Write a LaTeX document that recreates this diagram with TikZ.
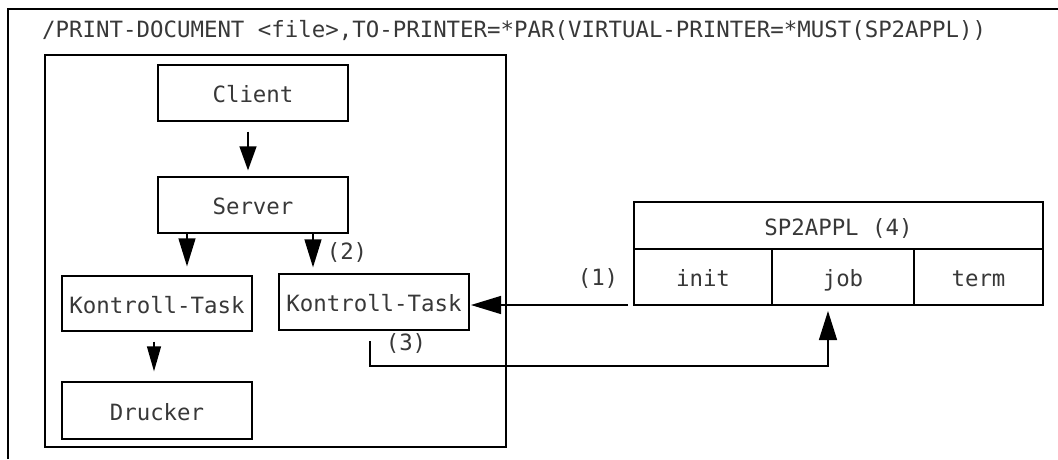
\documentclass[tikz,border=0pt]{standalone}
\usepackage{fontspec}
\newfontfamily\monofont{DejaVu Sans Mono}
\usetikzlibrary{arrows.meta}
\begin{document}
\begin{tikzpicture}[x=1pt,y=-1pt,
  every node/.style={font=\monofont\fontsize{22.4}{26}\selectfont, text=black!78, inner sep=0pt,
    text height=19pt, text depth=0pt},
  frame/.style={line width=1.3pt},
  box/.style={draw=black, line width=1.3pt, minimum width=190pt, minimum height=56pt},
  cell/.style={draw=black, line width=1.3pt, minimum height=56pt},
  arr/.style={line width=1.3pt, -{Triangle[length=28pt,width=17pt]}},
  arrs/.style={line width=1.3pt, -{Triangle[length=25pt,width=14pt]}}]
  \useasboundingbox (0,0) rectangle (1058,459);

  % outer frame (open towards the right and bottom)
  \draw[frame] (8,459) -- (8,9) -- (1058,9);
  \node[anchor=base west] (cmd) at (42,37)
    {/PRINT-DOCUMENT <file>,TO-PRINTER=*PAR(VIRTUAL-PRINTER=*MUST(SP2APPL))};

  % inner frame
  \draw[frame] (45,55) rectangle (506,447);

  % boxes inside the inner frame
  \node[box] (client) at (253,93) {Client};
  \node[box] (server) at (253,205) {Server};
  \node[box, minimum height=55pt] (kt1) at (157,303.5) {Kontroll-Task};
  \node[box, minimum height=57pt] (drucker) at (157,410.5) {Drucker};
  \node[box] (kt2) at (374,302) {Kontroll-Task};

  % SP2APPL table
  \node[draw=black, line width=1.3pt, minimum width=409pt, minimum height=47pt] (sp2) at (838.5,225.5) {SP2APPL (4)};
  \node[cell, minimum width=138pt] (init) at (703,277) {init};
  \node[cell, minimum width=142pt] (job) at (843,277) {job};
  \node[cell, minimum width=129pt] (term) at (978.5,277) {term};

  % connector helper points
  \coordinate (c1s) at (628,305);
  \coordinate (c1e) at (471,305);
  \coordinate (c3s) at (370,341);
  \coordinate (c3a) at (370,366);
  \coordinate (c3b) at (828,366);
  \coordinate (c3e) at (828,311);

  % arrows
  \draw[arr, -{Triangle[length=24pt,width=17pt]}] ([shift={(-5,10)}]client.south) -- ([shift={(-5,-6)}]server.north);
  \draw[arr] ([xshift=-66pt]server.south) -- ([xshift=30pt,yshift=9pt]kt1.north);
  \draw[arr] ([xshift=60pt]server.south) -- ([xshift=-61pt,yshift=6pt]kt2.north);
  \draw[arrs] ([xshift=-3pt,yshift=-10pt]kt1.south) -- ([xshift=-3pt,yshift=10pt]drucker.north);
  \draw[arr, -{Triangle[length=30pt,width=18pt]}] (c1s) -- (c1e);
  \draw[arr, -{Triangle[length=29pt,width=18pt]}] (c3s) -- (c3a) -- (c3b) -- (c3e);

  % step numbers
  \node (n1) at (598,276) {(1)};
  \node (n2) at (347,250) {(2)};
  \node (n3) at (406,341) {(3)};
\end{tikzpicture}
\end{document}
